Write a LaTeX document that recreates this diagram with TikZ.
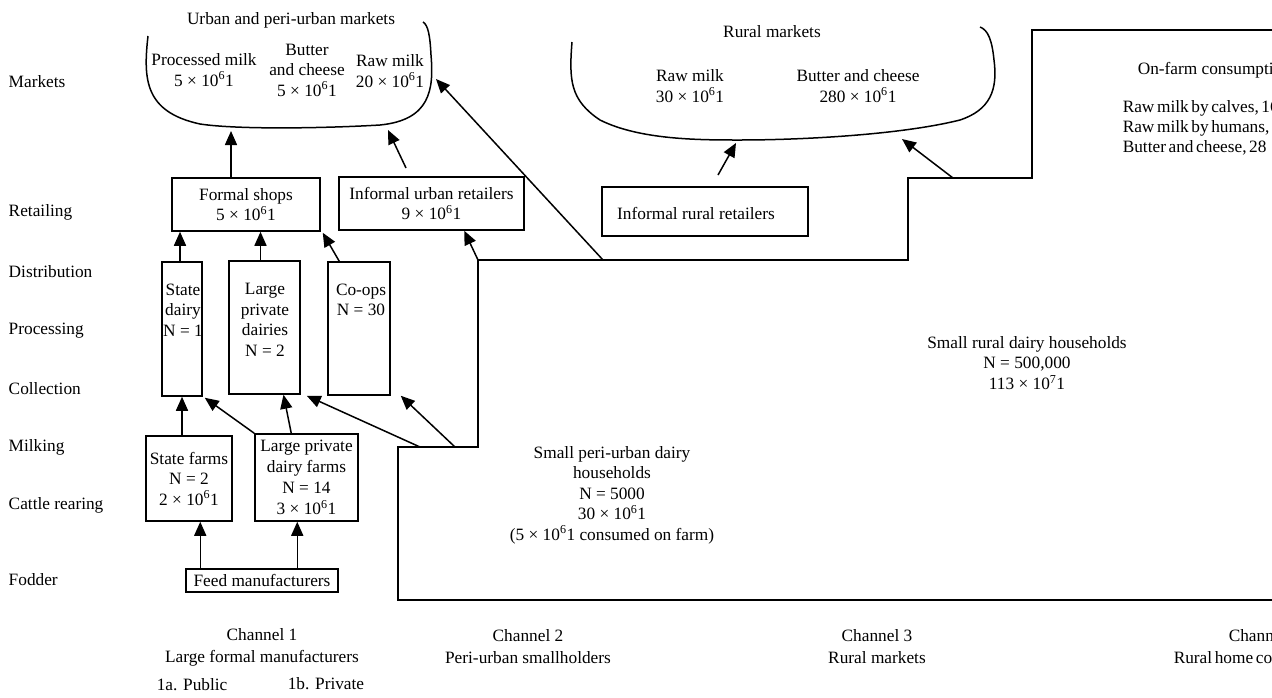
\documentclass[tikz,border=0pt]{standalone}
\usepackage{fontspec}
\setmainfont{Liberation Serif}
\usetikzlibrary{arrows.meta,calc}
\newcommand\Msix{10\textsuperscript{6}1}
\newcommand\tightsp{\spaceskip=2.6pt plus 0.5pt minus 0.5pt\relax}
\begin{document}
\begin{tikzpicture}[x=1pt,y=-1pt,
  font=\fontsize{17.3}{20.5}\selectfont,
  line width=1.5pt,
  box/.style={draw, rectangle, inner sep=0pt, align=center},
  txt/.style={align=center, inner sep=0pt},
  chan/.style={align=center, inner sep=0pt, font=\fontsize{17.3}{22}\selectfont},
  lbl/.style={anchor=west, inner sep=0pt},
  arr/.style={-{Triangle[length=14pt,width=12pt]}, line width=1.5pt}]
\useasboundingbox (0,0) rectangle (1272,697);

% level labels
\node[lbl] (lMarkets) at (8,82) {Markets};
\node[lbl] (lRetail) at (8,212) {Retailing};
\node[lbl] (lDistr) at (8,272) {Distribution};
\node[lbl] (lProc) at (8,331) {Processing};
\node[lbl] (lColl) at (8,389) {Collection};
\node[lbl] (lMilk) at (8,447) {Milking};
\node[lbl] (lCattle) at (8,505) {Cattle rearing};
\node[lbl] (lFodder) at (8,580) {Fodder};

% urban market bracket
\draw (148,36) .. controls (143,80) and (145,112) .. (200,124)
  .. controls (240,130) and (330,128) .. (380,125)
  .. controls (430,120) and (434,90) .. (431,55)
  .. controls (430,35) and (428,25) .. (423,22);
\node[txt] (umT) at (291,20) {Urban and peri-urban markets};
\node[txt] (umPM) at (204,70) {Processed milk\\5 × \Msix};
\node[txt] (umBC) at (307,70) {Butter\\and cheese\\5 × \Msix};
\node[txt] (umRM) at (390,71) {Raw milk\\20 × \Msix};

% rural market bracket
\draw (572,42) .. controls (569,80) and (570,100) .. (600,120)
  .. controls (640,140) and (700,140) .. (740,140)
  .. controls (800,140) and (900,135) .. (960,120)
  .. controls (990,110) and (998,90) .. (994,60)
  .. controls (992,40) and (988,30) .. (980,27);
\node[txt] (rmT) at (772,32) {Rural markets};
\node[txt] (rmRM) at (690,86) {Raw milk\\30 × \Msix};
\node[txt] (rmBC) at (858,86) {Butter and cheese\\280 × \Msix};

% on-farm consumption (cut at the right edge, as in the reference)
\node[lbl] (of1) at (1137,70) {On-farm consumpti};
\node[lbl] (of2) at (1122,108) {\tightsp Raw milk by calves, 16};
\node[lbl] (of3) at (1122,128) {\tightsp Raw milk by humans,};
\node[lbl] (of4) at (1122,148) {\tightsp Butter and cheese, 28};

% staircase outline of small households
\coordinate (p1) at (1272,30);
\coordinate (p2) at (1032,30);
\coordinate (p3) at (1032,178);
\coordinate (p4) at (908,178);
\coordinate (p5) at (908,260);
\coordinate (p6) at (478,260);
\coordinate (p7) at (478,447);
\coordinate (p8) at (398,447);
\coordinate (p9) at (398,600);
\coordinate (p10) at (1272,600);
\draw (p1) -- (p2) -- (p3) -- (p4) -- (p5) -- (p6) -- (p7) -- (p8) -- (p9) -- (p10);

\node[txt] (pu) at (612,495) {Small peri-urban dairy\\households\\N = 5000\\30 × \Msix\\(5 × \Msix{} consumed on farm)};
\node[txt] (rh) at (1027,363) {Small rural dairy households\\N = 500,000\\113 × 10\textsuperscript{7}1};

% boxes
\node[box, minimum width=148pt, minimum height=53pt] (fs) at (246,204.5) {Formal shops\\5 × \Msix};
\node[box, minimum width=185pt, minimum height=53pt] (iur) at (431.5,203.5) {Informal urban retailers\\9 × \Msix};
\node[box, minimum width=206pt, minimum height=49pt] (irr) at (705,211.5) {};
\node[txt] (irrT) at (696,213) {Informal rural retailers};
\node[box, minimum width=40pt, minimum height=134pt] (sd) at (182,329) {};
\node[txt] (sdT) at (183,310) {State\\dairy\\N = 1};
\node[box, minimum width=71pt, minimum height=133pt] (lpd) at (264.5,327.5) {};
\node[txt] (lpdT) at (265,320) {Large\\private\\dairies\\N = 2};
\node[box, minimum width=62pt, minimum height=133pt] (coop) at (359,328.5) {};
\node[txt] (coopT) at (361,300) {Co-ops\\N = 30};
\node[box, minimum width=86pt, minimum height=85pt] (sf) at (189,478.5) {State farms\\N = 2\\2 × \Msix};
\node[box, minimum width=103pt, minimum height=87pt, font=\fontsize{17.3}{21}\selectfont] (lpdf) at (306.5,477.5) {Large private\\dairy farms\\N = 14\\3 × \Msix};
\node[box, minimum width=152pt, minimum height=23pt] (feed) at (262,580.5) {Feed manufacturers};

% arrow end coordinates
\coordinate (umA) at (231,131);
\coordinate (umB) at (388,130);
\coordinate (umC) at (436,79);
\coordinate (rmA) at (736,143);
\coordinate (rmB) at (902,139);
\coordinate (iurS) at (406,168);
\coordinate (irrS) at (718,175);
\coordinate (s1) at (603,260);
\coordinate (s3) at (953,178);
\coordinate (s4) at (420,447);
\coordinate (s5) at (455,447);

% arrows
\draw[arr] (fs.north -| umA) -- (umA);
\draw[arr] (iurS) -- (umB);
\draw[arr] (s1) -- (umC);
\draw[arr] (p6) -- ($(iur.south west)+(126,0)$);
\draw[arr] (irrS) -- (rmA);
\draw[arr] (s3) -- (rmB);
\draw[arr] ($(sd.north)+(-2,0)$) -- ($(sd.north |- fs.south)+(-2,0)$);
\draw[arr] ($(lpd.north)+(-4,0)$) -- ($(lpd.north |- fs.south)+(-4,0)$);
\draw[arr] ($(coop.north west)+(12,0)$) -- ($(fs.south east)+(2,1)$);
\draw[arr] (sf.north -| sd.south) -- (sd.south);
\draw[arr] (lpdf.north west) -- ($(sd.south east)+(2,1)$);
\draw[arr] ($(lpdf.north west)+(37,0)$) -- ($(lpd.south)+(19,0)$);
\draw[arr] (s4) -- ($(lpd.south east)+(6,1)$);
\draw[arr] (s5) -- ($(coop.south east)+(10,0)$);
\draw[arr] ($(feed.north west)+(15,0)$) -- ($(feed.north west |- sf.south)+(15,0)$);
\draw[arr] ($(feed.north west)+(112,0)$) -- ($(feed.north west |- lpdf.south)+(112,0)$);

% channel labels
\node[chan] (ch1) at (262,647) {Channel 1\\Large formal manufacturers};
\node[lbl] (ch1a) at (156,685) {1a. Public};
\node[lbl] (ch1b) at (287,684) {1b. Private};
\node[chan] (ch2) at (528,647) {Channel 2\\Peri-urban smallholders};
\node[chan] (ch3) at (877,647) {Channel 3\\Rural markets};
\node[lbl] (ch4) at (1228,636) {Chann};
\node[lbl] (ch4b) at (1173,658) {\tightsp Rural home co};
\end{tikzpicture}
\end{document}
